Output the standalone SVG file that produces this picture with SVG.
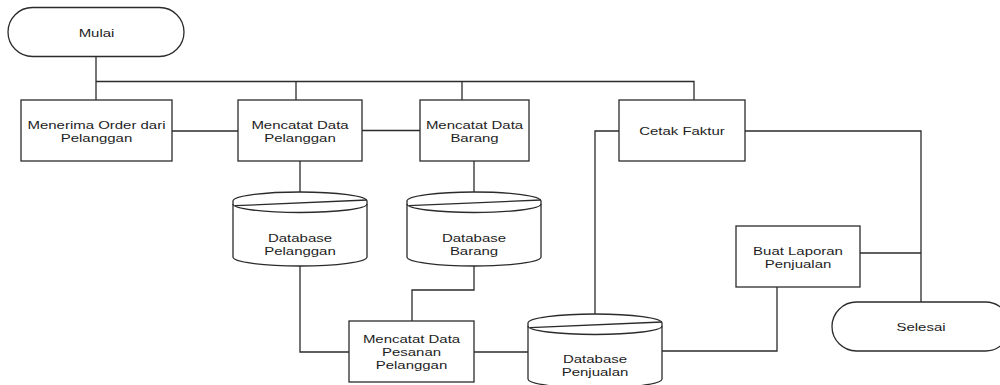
<svg xmlns="http://www.w3.org/2000/svg" width="1000" height="385" viewBox="0 0 1000 385">
  <style>
    .shape { fill: #ffffff; stroke: #2b2b2b; stroke-width: 1.3; }
    .line { fill: none; stroke: #2b2b2b; stroke-width: 1.3; }
    .lbl { font-family: "Liberation Sans", Arial, sans-serif; font-size: 11px; fill: #1e1e1e; text-anchor: middle; }
  </style>
  <defs>
    <g id="cyl">
      <path class="shape" d="M0,9 A67,9 0 0 1 134,9 L134,65 A67,9 0 0 1 0,65 Z"/>
      <path class="line" d="M0,12 A67,8.5 0 0 0 134,12"/>
      <line class="line" x1="2" y1="13.7" x2="134" y2="8"/>
    </g>
  </defs>
  <rect width="1000" height="385" fill="#ffffff"/>

  <g id="connectors">
    <path class="line" d="M96,57 V100"/>
    <path class="line" d="M96,81.5 H694 V100"/>
    <path class="line" d="M296,81.5 V100"/>
    <path class="line" d="M462,81.5 V100"/>
    <path class="line" d="M172,131 H238"/>
    <path class="line" d="M362,130.5 H420"/>
    <path class="line" d="M300,161 V192"/>
    <path class="line" d="M474,161 V192"/>
    <path class="line" d="M300,266 V352 H349"/>
    <path class="line" d="M474,266 V290 H412 V321"/>
    <path class="line" d="M474,352 H528"/>
    <path class="line" d="M595,314 V131 H619"/>
    <path class="line" d="M745,131 H921 V302"/>
    <path class="line" d="M860,253 H921"/>
    <path class="line" d="M777,287 V351 H662"/>
  </g>

  <g id="mulai">
    <rect class="shape" x="8" y="7.5" width="176" height="49" rx="24.5" ry="24.5"/>
    <text class="lbl" transform="translate(96.5,36.5) scale(1.36,1)">Mulai</text>
  </g>

  <g id="menerima-order">
    <rect class="shape" x="21" y="100" width="151" height="61"/>
    <text class="lbl" transform="translate(96.5,129) scale(1.36,1)">Menerima Order dari</text>
    <text class="lbl" transform="translate(96.5,142) scale(1.36,1)">Pelanggan</text>
  </g>

  <g id="mencatat-pelanggan">
    <rect class="shape" x="238" y="100" width="124" height="61"/>
    <text class="lbl" transform="translate(300,129) scale(1.36,1)">Mencatat Data</text>
    <text class="lbl" transform="translate(300,142) scale(1.36,1)">Pelanggan</text>
  </g>

  <g id="mencatat-barang">
    <rect class="shape" x="420" y="100" width="109" height="61"/>
    <text class="lbl" transform="translate(474.5,129) scale(1.36,1)">Mencatat Data</text>
    <text class="lbl" transform="translate(474.5,142) scale(1.36,1)">Barang</text>
  </g>

  <g id="cetak-faktur">
    <rect class="shape" x="619" y="100" width="126" height="61"/>
    <text class="lbl" transform="translate(682,135) scale(1.36,1)">Cetak Faktur</text>
  </g>

  <g id="db-pelanggan">
    <use href="#cyl" transform="translate(233,192)"/>
    <text class="lbl" transform="translate(300,241.5) scale(1.36,1)">Database</text>
    <text class="lbl" transform="translate(300,254.5) scale(1.36,1)">Pelanggan</text>
  </g>

  <g id="db-barang">
    <use href="#cyl" transform="translate(407,192)"/>
    <text class="lbl" transform="translate(474,241.5) scale(1.36,1)">Database</text>
    <text class="lbl" transform="translate(474,254.5) scale(1.36,1)">Barang</text>
  </g>

  <g id="mencatat-pesanan">
    <rect class="shape" x="349" y="321" width="125" height="61"/>
    <text class="lbl" transform="translate(411.5,342.5) scale(1.36,1)">Mencatat Data</text>
    <text class="lbl" transform="translate(411.5,355.5) scale(1.36,1)">Pesanan</text>
    <text class="lbl" transform="translate(411.5,368.5) scale(1.36,1)">Pelanggan</text>
  </g>

  <g id="db-penjualan">
    <use href="#cyl" transform="translate(528,314)"/>
    <text class="lbl" transform="translate(595,363) scale(1.36,1)">Database</text>
    <text class="lbl" transform="translate(595,376) scale(1.36,1)">Penjualan</text>
  </g>

  <g id="buat-laporan">
    <rect class="shape" x="736" y="226" width="124" height="61"/>
    <text class="lbl" transform="translate(798,254.5) scale(1.36,1)">Buat Laporan</text>
    <text class="lbl" transform="translate(798,267.5) scale(1.36,1)">Penjualan</text>
  </g>

  <g id="selesai">
    <rect class="shape" x="832" y="302" width="178" height="49" rx="24.5" ry="24.5"/>
    <text class="lbl" transform="translate(921,330.5) scale(1.36,1)">Selesai</text>
  </g>
</svg>
